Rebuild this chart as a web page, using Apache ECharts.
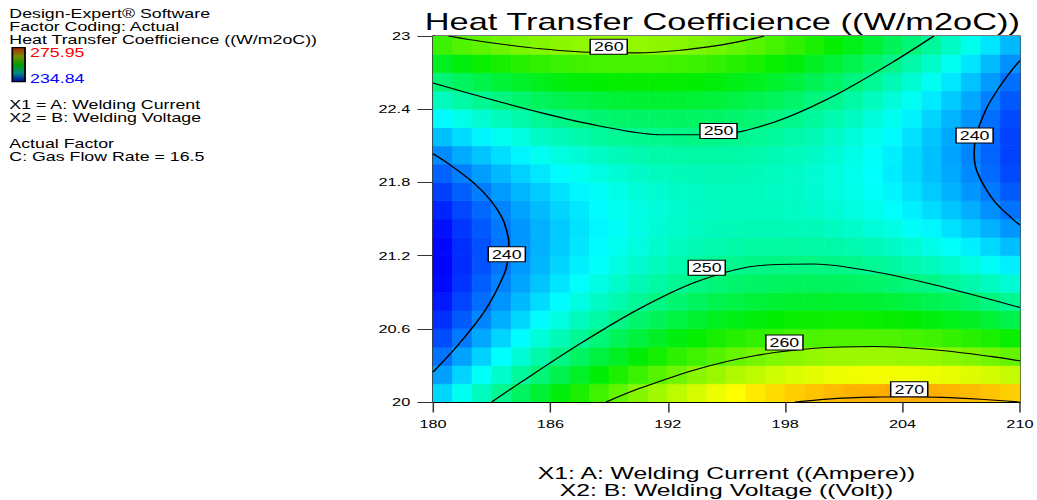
<!DOCTYPE html>
<html><head><meta charset="utf-8">
<script src="https://cdn.jsdelivr.net/npm/echarts@6/dist/echarts.min.js"></script>
<style>
html,body{margin:0;padding:0;background:#fff;overflow:hidden;}
#wrap{width:1037px;height:500px;overflow:hidden;}
#chart{width:700px;height:500px;transform:scaleX(1.48143);transform-origin:0 0;}
</style></head>
<body><div id="wrap"><div id="chart"></div></div>
<script>
// ---- data ----
const xTicks = [180, 186, 192, 198, 204, 210];
const yTicks = [20, 20.6, 21.2, 21.8, 22.4, 23];
const colorRange = [234.84, 275.95];
const xCenters = [180.5,181.5,182.5,183.5,184.5,185.5,186.5,187.5,188.5,189.5,190.5,191.5,192.5,193.5,194.5,195.5,196.5,197.5,198.5,199.5,200.5,201.5,202.5,203.5,204.5,205.5,206.5,207.5,208.5,209.5];
const yCenters = [20.075,20.225,20.375,20.525,20.675,20.825,20.975,21.125,21.275,21.425,21.575,21.725,21.875,22.025,22.175,22.325,22.475,22.625,22.775,22.925];
// response values per column (x), bottom -> top
const cellValues = [
[243.5,241.3,239.5,237.9,236.7,235.8,235.2,235.0,235.1,235.5,236.3,237.4,238.8,240.5,242.6,245.0,247.7,250.7,254.1,257.8],
[245.7,243.4,241.4,239.8,238.5,237.6,236.9,236.6,236.7,237.0,237.7,238.7,240.0,241.7,243.7,246.0,248.7,251.6,254.9,258.6],
[247.7,245.4,243.3,241.6,240.3,239.3,238.6,238.2,238.1,238.4,239.0,239.9,241.2,242.8,244.7,247.0,249.5,252.5,255.7,259.2],
[249.6,247.2,245.1,243.4,241.9,240.8,240.1,239.6,239.5,239.7,240.2,241.1,242.3,243.8,245.7,247.8,250.3,253.2,256.3,259.8],
[251.5,249.0,246.8,245.0,243.5,242.3,241.5,241.0,240.8,240.9,241.4,242.2,243.3,244.7,246.5,248.6,251.0,253.8,256.9,260.3],
[253.3,250.7,248.5,246.6,245.0,243.7,242.8,242.2,242.0,242.0,242.4,243.1,244.2,245.6,247.3,249.3,251.7,254.3,257.4,260.7],
[254.9,252.3,250.0,248.0,246.4,245.0,244.1,243.4,243.1,243.0,243.4,244.0,245.0,246.3,247.9,249.9,252.2,254.8,257.7,261.0],
[256.5,253.8,251.4,249.4,247.7,246.3,245.2,244.5,244.1,244.0,244.2,244.8,245.7,246.9,248.5,250.4,252.6,255.1,258.0,261.2],
[258.0,255.2,252.8,250.6,248.8,247.4,246.2,245.4,245.0,244.8,245.0,245.5,246.3,247.5,249.0,250.8,252.9,255.4,258.2,261.3],
[259.4,256.5,254.0,251.8,249.9,248.4,247.2,246.3,245.8,245.5,245.7,246.1,246.8,247.9,249.4,251.1,253.2,255.6,258.3,261.4],
[260.7,257.7,255.2,252.9,251.0,249.3,248.1,247.1,246.5,246.2,246.2,246.6,247.3,248.3,249.6,251.3,253.3,255.6,258.3,261.3],
[261.9,258.9,256.2,253.9,251.9,250.2,248.8,247.8,247.1,246.8,246.7,247.0,247.6,248.6,249.8,251.4,253.4,255.6,258.2,261.1],
[263.0,259.9,257.2,254.8,252.7,250.9,249.5,248.4,247.7,247.2,247.1,247.3,247.9,248.7,249.9,251.5,253.3,255.5,258.0,260.9],
[264.0,260.9,258.0,255.6,253.4,251.6,250.1,248.9,248.1,247.6,247.4,247.5,248.0,248.8,250.0,251.4,253.2,255.3,257.8,260.5],
[264.9,261.7,258.8,256.3,254.1,252.2,250.6,249.4,248.4,247.9,247.6,247.7,248.1,248.8,249.9,251.3,253.0,255.0,257.4,260.1],
[265.7,262.5,259.5,256.9,254.6,252.6,251.0,249.7,248.7,248.0,247.7,247.7,248.1,248.7,249.7,251.0,252.7,254.6,256.9,259.5],
[266.5,263.1,260.1,257.4,255.0,253.0,251.3,249.9,248.9,248.1,247.7,247.7,247.9,248.5,249.4,250.7,252.2,254.1,256.4,258.9],
[267.1,263.7,260.6,257.8,255.4,253.3,251.5,250.1,248.9,248.1,247.7,247.5,247.7,248.2,249.1,250.2,251.7,253.6,255.7,258.2],
[267.7,264.2,261.0,258.2,255.7,253.5,251.6,250.1,248.9,248.0,247.5,247.3,247.4,247.8,248.6,249.7,251.1,252.9,255.0,257.4],
[268.1,264.6,261.3,258.4,255.8,253.6,251.7,250.1,248.8,247.9,247.2,247.0,247.0,247.4,248.1,249.1,250.4,252.1,254.1,256.5],
[268.5,264.9,261.6,258.6,255.9,253.6,251.6,249.9,248.6,247.6,246.9,246.5,246.5,246.8,247.4,248.4,249.7,251.3,253.2,255.5],
[268.8,265.1,261.7,258.6,255.9,253.5,251.4,249.7,248.3,247.2,246.4,246.0,245.9,246.1,246.7,247.6,248.8,250.3,252.2,254.4],
[268.9,265.2,261.7,258.6,255.8,253.3,251.2,249.4,247.9,246.7,245.9,245.4,245.2,245.4,245.9,246.7,247.8,249.3,251.1,253.2],
[269.0,265.2,261.7,258.5,255.6,253.1,250.8,249.0,247.4,246.2,245.3,244.7,244.4,244.5,244.9,245.7,246.7,248.1,249.9,251.9],
[269.0,265.1,261.5,258.2,255.3,252.7,250.4,248.4,246.8,245.5,244.5,243.9,243.6,243.6,243.9,244.6,245.6,246.9,248.6,250.5],
[268.9,264.9,261.3,257.9,254.9,252.2,249.9,247.8,246.1,244.8,243.7,243.0,242.6,242.6,242.8,243.4,244.3,245.6,247.2,249.1],
[268.7,264.7,260.9,257.5,254.4,251.7,249.2,247.1,245.4,243.9,242.8,242.0,241.6,241.4,241.6,242.1,243.0,244.2,245.7,247.5],
[268.4,264.3,260.5,257.0,253.9,251.0,248.5,246.4,244.5,243.0,241.8,240.9,240.4,240.2,240.3,240.8,241.6,242.7,244.1,245.9],
[268.1,263.9,260.0,256.4,253.2,250.3,247.7,245.5,243.6,242.0,240.7,239.8,239.2,238.9,238.9,239.3,240.0,241.1,242.4,244.1],
[267.6,263.3,259.4,255.7,252.4,249.5,246.8,244.5,242.5,240.9,239.5,238.5,237.8,237.5,237.5,237.8,238.4,239.4,240.7,242.3]
];
// contour lines [x, y]
const contour240Left = [[180,22.035],[180.82,21.95],[182.05,21.8],[182.96,21.65],[183.56,21.5],[183.845,21.35],[183.88,21.275],[183.86,21.2],[183.64,21.05],[182.66,20.75],[181.19,20.45],[180,20.245]];
const contour240Right = [[210,22.80],[209.49,22.7],[208.82,22.55],[208.27,22.4],[207.75,22.175],[207.66,22.025],[207.84,21.875],[208.67,21.65],[209.62,21.5],[210,21.45]];
const contour250Top = [[180,22.614],[182.5,22.50],[185.5,22.372],[188.5,22.263],[191.5,22.192],[194.5,22.191],[197.5,22.298],[200.5,22.51],[203.5,22.786],[205.6,23]];
const contour260Top = [[180.79,23],[182.5,22.955],[185.5,22.895],[188.5,22.863],[190.5,22.862],[192.5,22.881],[194.5,22.921],[196.0,22.966],[196.93,23]];
const contour250Low = [[183.0,20],[184.5,20.163],[187.5,20.476],[190.5,20.76],[193.5,20.987],[196.5,21.115],[199.5,21.131],[202.5,21.07],[205.5,20.966],[208.5,20.841],[210,20.774]];
const contour260Low = [[188.85,20],[190.5,20.108],[193.5,20.269],[196.5,20.381],[199.5,20.441],[202.5,20.455],[205.5,20.43],[208.5,20.374],[210,20.337]];
const contour270 = [[198.5,20],[200.5,20.028],[202.5,20.04],[204.3,20.043],[206,20.038],[208,20.022],[210,20.0]];
// contour labels
const labelX = [188.98, 194.59, 183.77, 207.68, 193.99, 197.96, 204.34];
const labelY = [22.912, 22.221, 21.211, 22.184, 21.10, 20.488, 20.105];
const labelText = ['260', '250', '240', '240', '250', '260', '270'];

// ---- chart ----
const FONT = '"Liberation Sans", Arial, Helvetica, sans-serif';
const Y0 = yTicks[0];
const cells = [];
xCenters.forEach((x, i) => yCenters.forEach((y, j) => cells.push([x, y - Y0, cellValues[i][j]])));
const dx = xCenters[1] - xCenters[0];
const dy = yCenters[1] - yCenters[0];
const contours = [contour240Left, contour240Right, contour250Top, contour260Top, contour250Low, contour260Low, contour270];
const labels = labelX.map((x, i) => [x, labelY[i] - Y0, labelText[i]]);

const chart = echarts.init(document.getElementById('chart'), null, {renderer: 'svg'});
const leftText = (t, x, y, color) => ({type: 'text', x: x, y: y, silent: true,
  style: {text: t, font: '12px ' + FONT, fill: color || '#000', verticalAlign: 'middle', align: 'left'}});

chart.setOption({
  backgroundColor: '#fff',
  animation: false,
  title: {
    text: 'Heat Transfer Coefficience ((W/m2oC))',
    left: 487.6, top: 10, textAlign: 'center', padding: 0,
    textStyle: {fontFamily: FONT, fontSize: 23.2, fontWeight: 'normal', color: '#000'}
  },
  grid: {left: 292.3, top: 36, width: 396.2, height: 366, show: true, borderColor: '#000', borderWidth: 1,
    backgroundColor: 'transparent', containLabel: false, outerBoundsMode: 'none'},
  xAxis: {
    type: 'value', min: xTicks[0], max: xTicks[xTicks.length - 1], interval: xTicks[1] - xTicks[0],
    axisLine: {show: true, onZero: false, lineStyle: {color: '#000', width: 1.2}},
    axisTick: {show: true, length: 10.5, lineStyle: {color: '#333', width: 1}},
    axisLabel: {margin: 16.5, fontSize: 11, fontFamily: FONT, color: '#000'},
    splitLine: {show: false},
    name: 'X1: A: Welding Current ((Ampere))\nX2: B: Welding Voltage ((Volt))',
    nameLocation: 'middle', nameGap: 62,
    nameTextStyle: {fontSize: 16.7, fontFamily: FONT, color: '#000', lineHeight: 17.5}
  },
  yAxis: {
    type: 'value', min: 0, max: +(yTicks[yTicks.length - 1] - Y0).toFixed(4), interval: +(yTicks[1] - yTicks[0]).toFixed(4),
    axisLine: {show: true, onZero: false, lineStyle: {color: '#000', width: 1.6}},
    axisTick: {show: true, length: 10.5, lineStyle: {color: '#333', width: 1}},
    axisLabel: {margin: 15.4, fontSize: 11, fontFamily: FONT, color: '#000',
      formatter: v => String(+(v + Y0).toFixed(1))},
    splitLine: {show: false}
  },
  visualMap: {
    type: 'continuous', show: false, min: colorRange[0], max: colorRange[1], dimension: 2, seriesIndex: 0,
    inRange: {color: ['#0000ff', '#00ffff', '#00ee00', '#ffff00', '#ff0000']}
  },
  series: [
    {
      type: 'custom', data: cells, encode: {x: 0, y: 1}, silent: true, z: 1, clip: true,
      renderItem: function (params, api) {
        const xc = api.value(0), yc = api.value(1);
        const p0 = api.coord([xc - dx / 2, yc + dy / 2]);
        const p1 = api.coord([xc + dx / 2, yc - dy / 2]);
        const c = api.visual('color');
        return {type: 'rect', shape: {x: p0[0], y: p0[1], width: p1[0] - p0[0], height: p1[1] - p0[1]},
          style: {fill: c, stroke: c, lineWidth: 0.6}};
      }
    },
    ...contours.map(c => ({
      type: 'line', data: c.map(p => [p[0], p[1] - Y0]), smooth: 0.3, symbol: 'none', silent: true, z: 3,
      lineStyle: {color: '#000', width: 1.1}, clip: true
    })),
    {
      type: 'scatter', data: labels, symbol: 'circle', symbolSize: 2, silent: true, z: 5,
      itemStyle: {color: 'rgba(0,0,0,0)', opacity: 1},
      label: {show: true, position: 'inside', formatter: p => p.data[2], fontSize: 12, fontFamily: FONT, color: '#000',
        opacity: 1, backgroundColor: '#ffffff', borderColor: '#000000', borderWidth: 1, padding: [1, 2, 1, 2], lineHeight: 12}
    }
  ],
  graphic: [
    leftText('Design-Expert\u00ae Software', 6.3, 13.3),
    leftText('Factor Coding: Actual', 6.3, 26.2),
    leftText('Heat Transfer Coefficience ((W/m2oC))', 6.3, 39.2),
    {type: 'rect', silent: true, shape: {x: 8.3, y: 47.7, width: 8.6, height: 34},
      style: {stroke: '#000', lineWidth: 1.2,
        fill: new echarts.graphic.LinearGradient(0, 0, 0, 1, [
          {offset: 0, color: '#b02800'}, {offset: 0.25, color: '#7a8a00'}, {offset: 0.5, color: '#00a000'},
          {offset: 0.75, color: '#008a8a'}, {offset: 1, color: '#0000a0'}])}},
    leftText(String(colorRange[1]), 20.3, 52.5, '#ff0000'),
    leftText(String(colorRange[0]), 20.3, 78.3, '#0000ff'),
    leftText('X1 = A: Welding Current', 6.3, 104.7),
    leftText('X2 = B: Welding Voltage', 6.3, 118),
    leftText('Actual Factor', 6.3, 143.8),
    leftText('C: Gas Flow Rate = 16.5', 6.3, 156.8)
  ]
});
</script>
</body></html>
